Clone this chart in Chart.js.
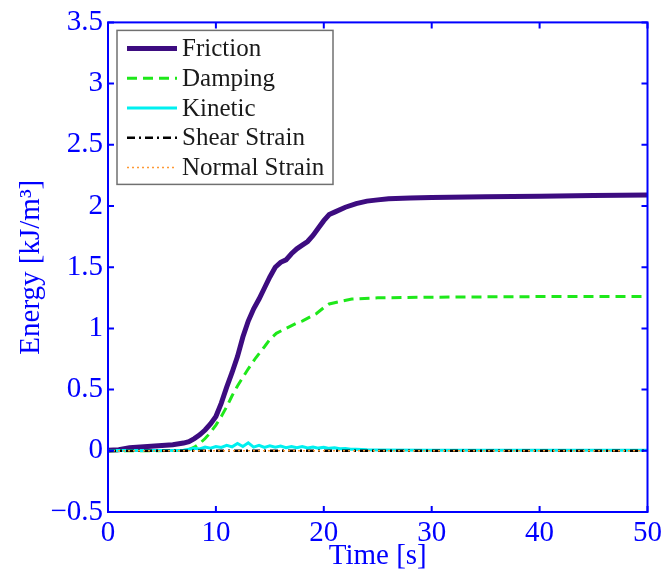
<!DOCTYPE html>
<html>
<head>
<meta charset="utf-8">
<script src="https://cdn.jsdelivr.net/npm/chart.js@4/dist/chart.umd.min.js"></script>
<style>
  body { margin: 0; background: #fff; }
  canvas { display: block; }
</style>
</head>
<body>
<canvas id="energy-chart" width="666" height="576"></canvas>
<script>
// time axis ticks [s] and energy ticks [kJ/m3]
const xTicks = [0, 10, 20, 30, 40, 50];
const yTicks = [-0.5, 0, 0.5, 1, 1.5, 2, 2.5, 3, 3.5];

const seriesNames = ['Friction', 'Damping', 'Kinetic', 'Shear Strain', 'Normal Strain'];

const timeFriction = [0,1,2,3,4,5,6,7,7.5,8,8.5,9,9.5,10,10.5,11,11.5,12,12.5,13,13.5,14,14.5,15,15.5,16,16.5,17,17.5,18,18.5,19,19.5,20,20.5,21,22,23,24,25,26,28,30,35,40,45,50];
const friction = [0.005,0.008,0.025,0.032,0.037,0.043,0.05,0.063,0.075,0.1,0.13,0.17,0.22,0.28,0.39,0.52,0.64,0.77,0.93,1.06,1.16,1.24,1.33,1.42,1.5,1.54,1.56,1.61,1.65,1.68,1.71,1.76,1.82,1.88,1.93,1.95,1.99,2.02,2.04,2.05,2.06,2.065,2.07,2.075,2.08,2.085,2.09];

const timeDamping = [0,7,7.5,8,8.5,9,9.5,10,10.5,11,11.5,12,12.5,13,13.7,14.5,15,15.6,16.5,17.4,18,19.3,20,20.5,21.5,22.6,25,30,40,50];
const damping = [0,0.002,0.01,0.03,0.06,0.1,0.15,0.21,0.28,0.36,0.45,0.53,0.6,0.67,0.76,0.85,0.91,0.96,1.0,1.04,1.06,1.12,1.17,1.2,1.22,1.24,1.25,1.255,1.26,1.26];

const timeKinetic = [0,5,7,7.5,8,8.5,9,9.5,10,10.5,11,11.5,12,12.5,13,13.5,14,14.5,15,15.5,16,16.5,17,17.5,18,18.5,19,19.5,20,20.5,21,21.5,22,22.5,23,24,25,30,40,50];
const kinetic = [0.002,0.003,0.005,0.012,0.02,0.015,0.03,0.022,0.035,0.028,0.045,0.032,0.06,0.035,0.065,0.03,0.045,0.028,0.04,0.03,0.038,0.026,0.035,0.025,0.034,0.024,0.03,0.022,0.028,0.02,0.024,0.016,0.018,0.012,0.012,0.008,0.006,0.005,0.004,0.004];

const timeShear = [0, 50];
const shearStrain = [0, 0];

const timeNormal = [0, 50];
const normalStrain = [0, 0];

const blue = '#0000ff';
const serif = '"Liberation Serif", "Times New Roman", serif';

function pts(t, v) {
    return t.map((x, i) => ({ x: x, y: v[i] }));
}

// box, inward ticks and legend drawn on top of the lines
const matlabBox = {
    id: 'matlabBox',
    afterDatasetsDraw(chart) {
        const ctx = chart.ctx;
        const a = chart.chartArea;
        const xs = chart.scales.x;
        const ys = chart.scales.y;
        ctx.save();
        ctx.strokeStyle = blue;
        ctx.lineWidth = 2;
        ctx.beginPath();
        xTicks.forEach(v => {
            const px = xs.getPixelForValue(v);
            ctx.moveTo(px, a.bottom); ctx.lineTo(px, a.bottom - 6);
            ctx.moveTo(px, a.top); ctx.lineTo(px, a.top + 6);
        });
        yTicks.forEach(v => {
            const py = ys.getPixelForValue(v);
            ctx.moveTo(a.left, py); ctx.lineTo(a.left + 6, py);
            ctx.moveTo(a.right, py); ctx.lineTo(a.right - 6, py);
        });
        ctx.stroke();
        ctx.strokeRect(a.left, a.top, a.right - a.left, a.bottom - a.top);

        // legend
        const lx = a.left + 9, ly = a.top + 8, lw = 216, lh = 154;
        ctx.fillStyle = '#fff';
        ctx.fillRect(lx, ly, lw, lh);
        ctx.strokeStyle = '#707070';
        ctx.lineWidth = 1.5;
        ctx.strokeRect(lx, ly, lw, lh);
        ctx.font = '25px ' + serif;
        ctx.textBaseline = 'middle';
        chart.data.datasets.forEach((ds, i) => {
            const y = ly + 18 + i * 29.8;
            ctx.strokeStyle = ds.borderColor;
            ctx.lineWidth = ds.borderWidth;
            ctx.setLineDash(ds.borderDash || []);
            ctx.beginPath();
            ctx.moveTo(lx + 10, y);
            ctx.lineTo(lx + 60, y);
            ctx.stroke();
            ctx.setLineDash([]);
            ctx.fillStyle = '#1a1a1a';
            ctx.fillText(ds.label, lx + 65, y + 1);
        });
        ctx.restore();
    }
};

new Chart(document.getElementById('energy-chart'), {
    type: 'line',
    data: {
        datasets: [{
            label: seriesNames[0],
            data: pts(timeFriction, friction),
            borderColor: '#3d0c80',
            borderWidth: 5,
            order: 5
        }, {
            label: seriesNames[1],
            data: pts(timeDamping, damping),
            borderColor: '#1ee81a',
            borderWidth: 3,
            borderDash: [10, 6],
            order: 4
        }, {
            label: seriesNames[2],
            data: pts(timeKinetic, kinetic),
            borderColor: '#00f0f0',
            borderWidth: 3,
            order: 3
        }, {
            label: seriesNames[3],
            data: pts(timeShear, shearStrain),
            borderColor: '#000000',
            borderWidth: 2.5,
            borderDash: [8, 4, 2, 4],
            order: 2
        }, {
            label: seriesNames[4],
            data: pts(timeNormal, normalStrain),
            borderColor: '#ff9933',
            borderWidth: 1.5,
            borderDash: [2, 3],
            order: 1
        }]
    },
    options: {
        responsive: false,
        animation: false,
        layout: { padding: { top: 21, right: 17, left: 0, bottom: 0 } },
        elements: { point: { radius: 0 }, line: { tension: 0 } },
        plugins: { legend: { display: false }, tooltip: { enabled: false } },
        scales: {
            x: {
                type: 'linear',
                min: 0,
                max: 50,
                afterBuildTicks: s => { s.ticks = xTicks.map(v => ({ value: v })); },
                afterFit: s => { s.height = 64; },
                grid: { display: false, drawTicks: false },
                border: { display: false },
                ticks: {
                    color: blue,
                    padding: 4,
                    font: { family: serif, size: 29 }
                },
                title: {
                    display: true,
                    text: 'Time [s]',
                    color: blue,
                    padding: { top: 0, bottom: 2 },
                    font: { family: serif, size: 29 }
                }
            },
            y: {
                type: 'linear',
                min: -0.5,
                max: 3.5,
                afterBuildTicks: s => { s.ticks = yTicks.map(v => ({ value: v })); },
                afterFit: s => { s.width = 108; },
                grid: { display: false, drawTicks: false },
                border: { display: false },
                ticks: {
                    color: blue,
                    padding: 5,
                    font: { family: serif, size: 29 },
                    callback: v => (v < 0 ? '\u2212' + Math.abs(v) : String(v))
                },
                title: {
                    display: true,
                    text: 'Energy [kJ/m\u00b3]',
                    color: blue,
                    padding: { top: 14, bottom: 0 },
                    font: { family: serif, size: 29 }
                }
            }
        }
    },
    plugins: [matlabBox]
});
</script>
</body>
</html>
